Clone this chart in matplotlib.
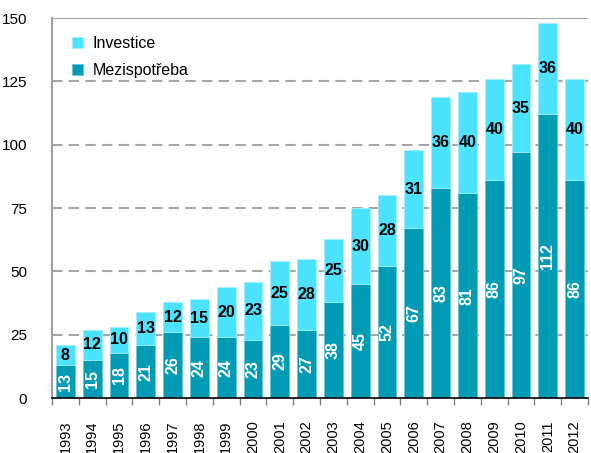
import matplotlib.pyplot as plt
import numpy as np

plt.rcParams['font.family'] = ['Liberation Sans', 'DejaVu Sans']

years = [str(y) for y in range(1993, 2013)]
mezispotreba = [13, 15, 18, 21, 26, 24, 24, 23, 29, 27, 38, 45, 52, 67, 83, 81, 86, 97, 112, 86]
investice = [8, 12, 10, 13, 12, 15, 20, 23, 25, 28, 25, 30, 28, 31, 36, 40, 40, 35, 36, 40]

dark = '#009bb4'
light = '#4be3ff'

fig = plt.figure(figsize=(5.91, 4.53), dpi=100)
ax = fig.add_axes([0.088, 0.121, 0.907, 0.839])

x = np.arange(len(years))
b1 = ax.bar(x, mezispotreba, width=0.7, color=dark, edgecolor='#5fc8d8', linewidth=0.6,
            label='Mezispotřeba', zorder=3)
b2 = ax.bar(x, investice, width=0.7, bottom=mezispotreba, color=light, edgecolor='#9ff0ff',
            linewidth=0.6, label='Investice', zorder=3)

# value labels
for i in range(len(years)):
    ax.text(x[i], mezispotreba[i] / 2, str(mezispotreba[i]), rotation=90,
            ha='center', va='center', color='white', fontsize=11.5, fontweight='bold', zorder=4)
    ax.text(x[i], mezispotreba[i] + investice[i] / 2, str(investice[i]),
            ha='center', va='center', color='black', fontsize=11.5, fontweight='bold', zorder=4)

ax.set_xlim(-0.5, len(years) - 0.5)
ax.set_ylim(0, 150)
ax.set_yticks(range(0, 151, 25))
ax.set_xticks(x)
ax.set_xticklabels(years, rotation=90, fontsize=10.5)
ax.tick_params(axis='y', length=0, labelsize=11, pad=18)
ax.tick_params(axis='x', length=0, pad=16)
# ticks between categories
ax.set_xticks(np.arange(-0.5, len(years), 1), minor=True)
ax.tick_params(axis='x', which='minor', length=5, color='#808080', width=1)

for yv in range(25, 150, 25):
    ax.axhline(yv, color='#a6a6a6', linestyle=(0, (5, 3)), linewidth=1.5, zorder=1)
ax.axhline(150, color='#a6a6a6', linewidth=1.5, zorder=1)

ax.spines['top'].set_visible(False)
ax.spines['right'].set_visible(False)
ax.spines['left'].set_color('#a0a0a0')
ax.spines['left'].set_linewidth(1.5)
ax.spines['bottom'].set_color('black')
ax.spines['bottom'].set_linewidth(1.2)
ax.spines['bottom'].set_zorder(5)

handles = [b2, b1]
ax.legend(handles, ['Investice', 'Mezispotřeba'], loc='upper left', frameon=False,
          fontsize=11.5, handlelength=0.7, handleheight=0.7, labelspacing=0.75,
          handletextpad=0.6, bbox_to_anchor=(0.01, 0.99))

fig.savefig('out.png', dpi=100)
